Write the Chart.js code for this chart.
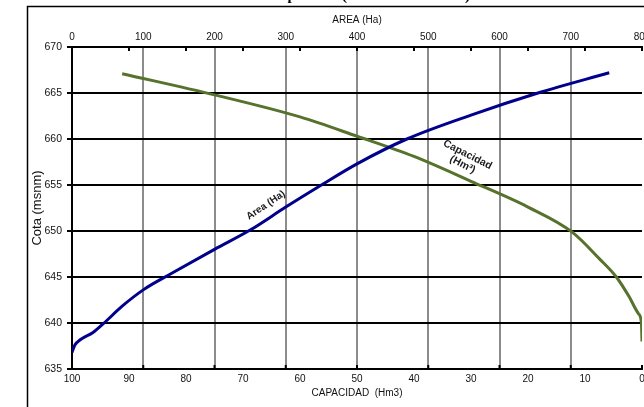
<!DOCTYPE html>
<html>
<head>
<meta charset="utf-8">
<script src="https://cdn.jsdelivr.net/npm/chart.js@4/dist/chart.umd.min.js"></script>
<style>
  html, body { margin: 0; padding: 0; background: #fff; overflow: hidden; }
  #wrap { position: relative; width: 644px; height: 407px; }
</style>
</head>
<body>
<div id="wrap"><canvas id="c"></canvas></div>
<script>
  // curva cota - area (eje superior, Ha)
  const areaHa   = [0, 4, 12, 30, 45, 70, 100, 140, 200, 250, 300, 350, 400, 470, 560, 654, 754];
  const areaCota = [636.8, 637.6, 638.2, 639.0, 640.0, 641.8, 643.6, 645.4, 648.0, 650.1, 652.6, 655.0, 657.3, 660.0, 662.6, 665.0, 667.2];

  // curva cota - capacidad (eje inferior, Hm3, invertido)
  const capHm3  = [91.2, 75, 60, 50, 40, 30, 20, 12.3, 7.5, 4.5, 2.3, 0.6, 0.1, 0];
  const capCota = [667.1, 664.8, 662.4, 660.3, 658.1, 655.4, 652.6, 649.9, 647.0, 645.0, 642.9, 641.0, 640.0, 638.0];

  const chartTitle = 'Curva Area - Capacidad (Embalse Existente)';
  const FONT = '"Liberation Sans", Arial, sans-serif';

  const toPts = (xs, ys) => xs.map((x, i) => ({ x: x, y: ys[i] }));

  const extras = {
    id: 'extras',
    afterDraw(chart) {
      const { ctx, chartArea: a, scales } = chart;
      const line = (x1, y1, x2, y2) => { ctx.beginPath(); ctx.moveTo(x1, y1); ctx.lineTo(x2, y2); ctx.stroke(); };
      ctx.save();

      // short inner tick marks (top axis at capacity steps, bottom axis at area steps)
      ctx.strokeStyle = '#000';
      ctx.lineWidth = 2;
      scales.xc.ticks.forEach(t => {
        const x = scales.xc.getPixelForValue(t.value);
        line(x, a.top, x, a.top + 4);
      });
      scales.xa.ticks.forEach(t => {
        const x = scales.xa.getPixelForValue(t.value);
        line(x, a.bottom, x, a.bottom - 4);
      });

      // outer frame
      ctx.lineWidth = 1.5;
      ctx.beginPath();
      ctx.moveTo(27.5, 420);
      ctx.lineTo(27.5, 6.5);
      ctx.lineTo(700, 6.5);
      ctx.stroke();

      // title, cut by the top of the picture
      ctx.fillStyle = '#000';
      ctx.font = 'bold 15px "Liberation Serif", serif';
      ctx.textAlign = 'right';
      ctx.textBaseline = 'alphabetic';
      ctx.fillText(chartTitle, 470, 0);

      // curve labels
      ctx.fillStyle = '#1a1a1a';
      ctx.font = 'bold 10px ' + FONT;
      ctx.textAlign = 'center';
      ctx.textBaseline = 'middle';

      ctx.save();
      ctx.translate(scales.xa.getPixelForValue(272), scales.y.getPixelForValue(652.8));
      ctx.rotate(-34 * Math.PI / 180);
      ctx.fillText('Area (Ha)', 0, 0);
      ctx.restore();

      ctx.save();
      ctx.font = 'bold 10.5px ' + FONT;
      ctx.translate(scales.xc.getPixelForValue(31), scales.y.getPixelForValue(657.8));
      ctx.rotate(27 * Math.PI / 180);
      ctx.fillText('Capacidad', 0, -5);
      ctx.fillText('(Hm\u00B3)', 0, 6);
      ctx.restore();

      ctx.restore();
    }
  };

  new Chart(document.getElementById('c'), {
    type: 'line',
    data: {
      datasets: [
        {
          label: 'Area (Ha)',
          data: toPts(areaHa, areaCota),
          xAxisID: 'xa',
          yAxisID: 'y',
          borderColor: '#00008c',
          borderWidth: 3,
          pointRadius: 0,
          cubicInterpolationMode: 'monotone',
          fill: false,
        },
        {
          label: 'Capacidad (Hm3)',
          data: toPts(capHm3, capCota),
          xAxisID: 'xc',
          yAxisID: 'y',
          borderColor: '#56722c',
          borderWidth: 3,
          pointRadius: 0,
          cubicInterpolationMode: 'monotone',
          fill: false,
        },
      ],
    },
    options: {
      responsive: true,
      maintainAspectRatio: false,
      animation: false,
      events: [],
      layout: { padding: { left: 28, right: 2, top: 0, bottom: 0 } },
      plugins: {
        legend: { display: false },
        tooltip: { enabled: false },
      },
      scales: {
        xa: {
          type: 'linear',
          position: 'top',
          min: 0,
          max: 800,
          ticks: { stepSize: 100, padding: 4, color: '#111', font: { family: FONT, size: 10 } },
          grid: {
            color: c => (c.tick && (c.tick.value === 0 || c.tick.value === 800)) ? 'rgba(0,0,0,0)' : '#8c8c8c',
            lineWidth: 2,
            drawTicks: false,
          },
          border: { color: '#000', width: 2 },
          title: { display: true, text: 'AREA (Ha)', color: '#111', font: { family: FONT, size: 10 }, padding: { top: 14, bottom: 0 } },
          afterFit(s) { s.height = 47; s.paddingLeft = 0; s.paddingRight = 0; },
        },
        xc: {
          type: 'linear',
          position: 'bottom',
          reverse: true,
          min: 0,
          max: 100,
          ticks: { stepSize: 10, padding: 4, color: '#111', font: { family: FONT, size: 10 } },
          grid: { display: false, drawTicks: false },
          border: { color: '#000', width: 2 },
          title: { display: true, text: 'CAPACIDAD  (Hm3)', color: '#111', font: { family: FONT, size: 10 }, padding: { top: 0, bottom: 8 } },
          afterFit(s) { s.height = 38; s.paddingLeft = 0; s.paddingRight = 0; },
        },
        y: {
          type: 'linear',
          position: 'left',
          min: 635,
          max: 670,
          ticks: { stepSize: 5, padding: 5, color: '#111', font: { family: FONT, size: 10.5 } },
          grid: { color: '#000', lineWidth: 2, drawTicks: true, tickLength: 5 },
          border: { color: '#000', width: 2 },
          title: { display: true, text: 'Cota (msnm)', color: '#111', font: { family: FONT, size: 13 }, padding: { top: 2, bottom: 0 } },
          afterFit(s) { s.width = 44; s.paddingTop = 0; s.paddingBottom = 0; },
        },
      },
    },
    plugins: [extras],
  });
</script>
</body>
</html>
